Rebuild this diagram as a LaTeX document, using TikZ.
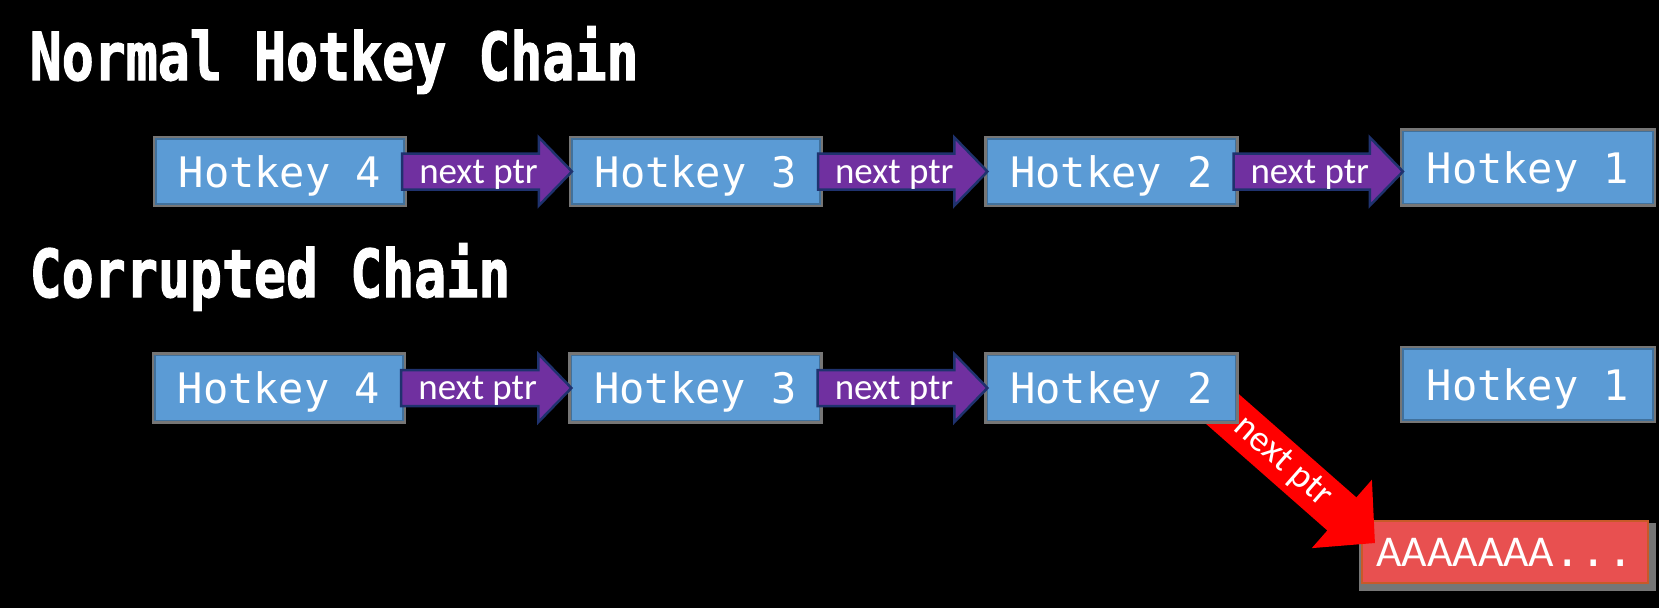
\documentclass[tikz,border=0pt]{standalone}
\usepackage{fontspec}
\setmainfont{Carlito}
\newfontfamily\monofont{DejaVu Sans Mono}
\newfontfamily\pixfont{DejaVu Sans Mono}[BoldFeatures={FakeBold=2}]
\usetikzlibrary{calc}

\definecolor{boxblue}{RGB}{91,155,213}
\definecolor{boxedge}{RGB}{65,113,156}
\definecolor{shadowgrey}{RGB}{118,118,118}
\definecolor{ptrpurple}{RGB}{112,48,160}
\definecolor{ptredge}{RGB}{31,50,110}
\definecolor{badred}{RGB}{255,0,0}
\definecolor{boxred}{RGB}{232,80,80}
\definecolor{boxrededge}{RGB}{200,90,40}

\newcommand\hkfont{\monofont\fontsize{11.95pt}{14pt}\selectfont}
\newcommand\ptrfont{\fontsize{10.5pt}{12pt}\selectfont}
\newcommand\badfont{\fontsize{12.5pt}{14pt}\selectfont}
\newcommand\pixtitle{\pixfont\bfseries\fontsize{18.78pt}{20pt}\selectfont}

\pgfdeclarelayer{lowest}
\pgfdeclarelayer{lower}
\pgfsetlayers{lowest,lower,main}

\newcommand\ptrarrow[2]{%
  \coordinate (s#1) at ($(#1.east)+(-2,0)$);
  \coordinate (t#1) at (#1.east -| #2.west);
  \draw[ptrshape] ($(s#1)+(0,-18)$) -- ($(t#1)+(-33,-18)$) -- ($(t#1)+(-33,-34)$) -- (t#1)
     -- ($(t#1)+(-33,34)$) -- ($(t#1)+(-33,18)$) -- ($(s#1)+(0,18)$) -- cycle;
  \node[ptrlabel] (l#1) at ($(s#1)!0.45!(t#1)+(0,11.5)$) {next ptr};
}

\begin{document}
\begin{tikzpicture}[x=0.01cm,y=-0.01cm,
  hotkey/.style={rectangle, fill=boxblue, draw=boxedge, line width=0.015cm,
    preaction={draw=shadowgrey, line width=0.06cm},
    minimum width=2.48cm, minimum height=0.65cm, inner sep=0pt, outer sep=0pt,
    text=white, font=\hkfont, text height=0.31cm, text depth=0cm},
  hotkeyone/.style={hotkey, minimum width=2.50cm, minimum height=0.72cm},
  ptrshape/.style={fill=ptrpurple, draw=ptredge, line width=0.025cm, line join=miter},
  ptrlabel/.style={anchor=base, inner sep=0pt, text=white, font=\ptrfont},
  redlabel/.style={inner sep=0pt, text=white, font=\ptrfont},
  badbox/.style={rectangle, fill=boxred, draw=boxrededge, line width=0.015cm,
    minimum width=2.86cm, minimum height=0.62cm, inner sep=0pt, outer sep=0pt,
    text=white, font=\badfont, text height=0.29cm, text depth=0cm},
  titletext/.style={anchor=base west, inner sep=0pt, text=white, font=\pixtitle}
]
\begin{pgfonlayer}{lowest}
  \fill[black] (0,0) rectangle (1659,608);
\end{pgfonlayer}
\useasboundingbox (0,0) rectangle (1659,608);

% titles
\node[titletext] (title1) at (29,80) {\scalebox{0.806}[1]{Normal Hotkey Chain}};
\node[titletext] (title2) at (29,297) {\scalebox{0.806}[1]{Corrupted Chain}};

% top row
\node[hotkey] (t4) at (280,171.5) {Hotkey 4};
\node[hotkey] (t3) at (696,171.5) {Hotkey 3};
\node[hotkey] (t2) at (1111.5,171.5) {Hotkey 2};
\node[hotkeyone] (t1) at (1528,167.5) {Hotkey 1};

% bottom row
\node[hotkey] (b4) at (279,388) {Hotkey 4};
\node[hotkey] (b3) at (695.5,388) {Hotkey 3};
\node[hotkey] (b2) at (1111.5,388) {Hotkey 2};
\node[hotkeyone, minimum height=0.71cm] (b1) at (1528,384.5) {Hotkey 1};

% corrupted target
\begin{pgfonlayer}{lowest}
  \fill[shadowgrey] (1359,523) rectangle (1656,591);
  \node[badbox] (bad) at (1505,552) {AAAAAAA{\monofont...}};
\end{pgfonlayer}

% red arrow
\begin{pgfonlayer}{lower}
  \coordinate (rt) at ($(bad.north west)+(13,22)$);
  \coordinate (rs) at ($(b2.south east)!-0.25!(rt)$);
  \coordinate (rb) at ($(rt)!0.44cm!(rs)$);
  \fill[badred] ($(rs)!0.22cm!90:(rt)$) -- ($(rb)!0.22cm!90:(rt)$) -- ($(rb)!0.455cm!90:(rt)$)
     -- (rt) -- ($(rb)!0.455cm!-90:(rt)$) -- ($(rb)!0.22cm!-90:(rt)$) -- ($(rs)!0.22cm!-90:(rt)$) -- cycle;
  \path (rs) -- (rt) node[redlabel, sloped, pos=0.47] (lred) {next ptr};
\end{pgfonlayer}

% purple arrows
\ptrarrow{t4}{t3}
\ptrarrow{t3}{t2}
\ptrarrow{t2}{t1}
\ptrarrow{b4}{b3}
\ptrarrow{b3}{b2}
\end{tikzpicture}
\end{document}
